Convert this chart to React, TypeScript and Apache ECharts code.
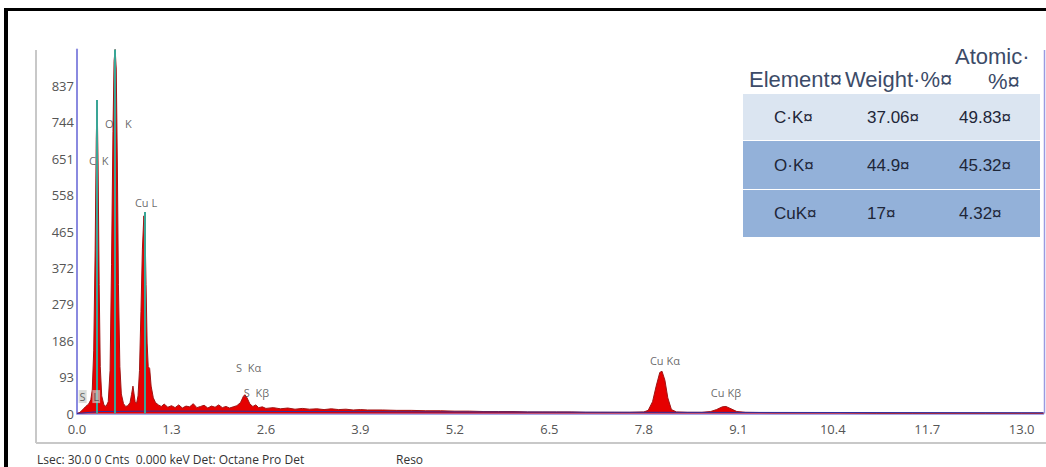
import React, { useEffect, useRef } from "react";
import * as echarts from "echarts";

// Spectrum: [energy keV, counts]
const spectrum: [number, number][] = [
  [0.0, 0], [0.04, 3], [0.08, 10], [0.12, 18], [0.16, 24], [0.19, 35], [0.21, 60],
  [0.23, 160], [0.25, 420], [0.265, 700], [0.277, 800], [0.29, 640], [0.305, 330],
  [0.32, 120], [0.34, 45], [0.37, 22], [0.4, 18], [0.43, 30], [0.455, 110],
  [0.475, 380], [0.495, 720], [0.51, 900], [0.525, 930], [0.54, 880], [0.555, 640],
  [0.57, 330], [0.59, 120], [0.61, 50], [0.64, 25], [0.67, 18], [0.7, 20], [0.73, 28],
  [0.75, 48], [0.77, 70], [0.785, 50], [0.8, 30], [0.82, 26], [0.84, 45], [0.86, 110],
  [0.88, 260], [0.9, 420], [0.92, 505], [0.935, 480], [0.95, 330], [0.965, 180],
  [0.98, 120], [1.0, 115], [1.02, 70], [1.05, 40], [1.08, 28], [1.12, 22], [1.16, 18],
  [1.2, 24], [1.25, 16], [1.3, 20], [1.35, 15], [1.4, 22], [1.45, 14], [1.5, 19],
  [1.55, 17], [1.6, 25], [1.65, 15], [1.7, 18], [1.75, 21], [1.8, 14], [1.85, 19],
  [1.9, 16], [1.95, 22], [2.0, 15], [2.05, 18], [2.1, 14], [2.15, 17], [2.2, 20],
  [2.25, 28], [2.29, 44], [2.31, 48], [2.34, 40], [2.38, 24], [2.42, 18], [2.46, 22],
  [2.5, 15], [2.55, 17], [2.6, 13], [2.7, 15], [2.8, 12], [2.9, 14], [3.0, 11],
  [3.1, 13], [3.2, 11], [3.3, 12], [3.4, 10], [3.5, 12], [3.6, 10], [3.7, 11],
  [3.8, 9], [3.9, 10], [4.0, 9], [4.2, 9], [4.4, 8], [4.6, 8], [4.8, 7], [5.0, 7],
  [5.2, 6], [5.4, 6], [5.6, 5], [5.8, 5], [6.0, 5], [6.2, 4], [6.4, 4], [6.6, 4],
  [6.8, 4], [7.0, 3], [7.2, 3], [7.4, 3], [7.6, 3], [7.8, 4], [7.86, 8], [7.92, 30],
  [7.97, 70], [8.02, 105], [8.05, 108], [8.09, 85], [8.13, 40], [8.18, 10], [8.25, 4],
  [8.4, 3], [8.6, 3], [8.72, 5], [8.8, 10], [8.88, 17], [8.93, 18], [9.0, 12],
  [9.08, 5], [9.2, 3], [9.6, 2], [10.0, 2], [10.5, 2], [11.0, 1], [11.5, 1],
  [12.0, 1], [12.5, 1], [13.0, 1], [13.3, 1],
];

// Fitted background
const background: [number, number][] = [
  [0.0, 0], [0.3, 5], [1.0, 6], [2.0, 6], [3.0, 5], [5.0, 4], [8.0, 3], [13.3, 2],
];

// KLM marker lines
const markerEnergies = [0.277, 0.525, 0.93];
const markerHeights = [801, 930, 515];

// Peak labels
const lineNames = ["{g|S}  {g|L}", "C  K", "O    K", "Cu L", "S  Kα", "S  Kβ", "Cu Kα", "Cu Kβ"];
const lineLabelEnergy = [0.17, 0.3, 0.57, 0.95, 2.36, 2.47, 8.09, 8.93];
const lineLabelCounts = [42, 648, 742, 540, 118, 56, 136, 56];

// Quantification table
const tableHeaders = ["Element¤", "Weight·%¤", "Atomic·", "%¤"];
const tableElements = ["C·K¤", "O·K¤", "CuK¤"];
const tableWeight = ["37.06¤", "44.9¤", "17¤"];
const tableAtomic = ["49.83¤", "45.32¤", "4.32¤"];

const yTicksInterval = 93;
const yMax = 930;
const xInterval = 1.3;
const xMax = 13.3;

const statusText = "Lsec: 30.0 0 Cnts  0.000 keV Det: Octane Pro Det";
const statusText2 = "Reso";

export default function App() {
  const ref = useRef<HTMLDivElement>(null);
  useEffect(() => {
    if (!ref.current) return;
    const chart = echarts.init(ref.current, undefined, { renderer: "svg" });
    const font = "'Open Sans', 'Noto Sans', sans-serif";
    const tfont = "'Liberation Sans', Arial, sans-serif";
    const rowTops = [94, 141, 190];
    const rowH = [46, 48, 47];
    const rowColors = ["#dbe5f1", "#93b1d9", "#93b1d9"];
    const graphics: any[] = [
      // outer black frame
      { type: "rect", shape: { x: 4, y: 8, width: 4, height: 470 }, style: { fill: "#000" }, silent: true },
      { type: "rect", shape: { x: 4, y: 8, width: 1050, height: 3 }, style: { fill: "#000" }, silent: true },
      // grey panel lines
      { type: "line", shape: { x1: 36, y1: 50, x2: 36, y2: 443 }, style: { stroke: "#c8c8c8", lineWidth: 2 }, silent: true },
      { type: "line", shape: { x1: 36, y1: 443, x2: 1046, y2: 443 }, style: { stroke: "#c8c8c8", lineWidth: 2 }, silent: true },
      // right plot border
      { type: "line", shape: { x1: 1044.5, y1: 50, x2: 1044.5, y2: 413.5 }, style: { stroke: "#9a9ae0", lineWidth: 1.5 }, silent: true },
      // status text
      { type: "text", x: 37, y: 459, style: { text: statusText, font: `12px ${font}`, fill: "#333", textVerticalAlign: "middle" }, silent: true },
      { type: "text", x: 396, y: 459, style: { text: statusText2, font: `12px ${font}`, fill: "#333", textVerticalAlign: "middle" }, silent: true },
    ];
    rowTops.forEach((t, i) => {
      graphics.push({ type: "rect", shape: { x: 743, y: t, width: 297, height: rowH[i] }, style: { fill: rowColors[i] }, silent: true });
      const cy = t + rowH[i] / 2;
      graphics.push({ type: "text", x: 774, y: cy, style: { text: tableElements[i], font: `17px ${tfont}`, fill: "#1e2638", textVerticalAlign: "middle" }, silent: true });
      graphics.push({ type: "text", x: 867, y: cy, style: { text: tableWeight[i], font: `17px ${tfont}`, fill: "#1e2638", textVerticalAlign: "middle" }, silent: true });
      graphics.push({ type: "text", x: 959, y: cy, style: { text: tableAtomic[i], font: `17px ${tfont}`, fill: "#1e2638", textVerticalAlign: "middle" }, silent: true });
    });
    const hStyle = (t: string) => ({ text: t, font: `22px ${tfont}`, fill: "#3c4b68", textVerticalAlign: "bottom" });
    graphics.push({ type: "text", x: 749, y: 90, style: hStyle(tableHeaders[0]), silent: true });
    graphics.push({ type: "text", x: 845, y: 90, style: hStyle(tableHeaders[1]), silent: true });
    graphics.push({ type: "text", x: 955, y: 67, style: hStyle(tableHeaders[2]), silent: true });
    graphics.push({ type: "text", x: 988, y: 92, style: hStyle(tableHeaders[3]), silent: true });

    const labelData = lineNames.map((n, i) => ({
      name: n,
      value: [lineLabelEnergy[i], lineLabelCounts[i]],
    }));

    chart.setOption({
      animation: false,
      backgroundColor: "#ffffff",
      grid: { left: 77, right: 2.5, top: 49.5, bottom: 53.5, containLabel: false },
      xAxis: {
        type: "value",
        min: 0,
        max: xMax,
        interval: xInterval,
        axisLine: { show: true, lineStyle: { color: "#8a8ae0", width: 1.5 } },
        axisTick: { show: false },
        splitLine: { show: false },
        axisLabel: {
          color: "#555",
          fontSize: 13,
          lineHeight: 13,
          fontFamily: font,
          margin: 9,
          showMaxLabel: false,
          formatter: (v: number) => v.toFixed(1),
        },
      },
      yAxis: {
        type: "value",
        min: 0,
        max: yMax,
        interval: yTicksInterval,
        axisLine: { show: true, lineStyle: { color: "#8a8ae0", width: 2 } },
        axisTick: { show: false },
        splitLine: { show: false },
        axisLabel: {
          color: "#555",
          fontSize: 13,
          lineHeight: 13,
          fontFamily: font,
          margin: 3,
          showMaxLabel: false,
        },
      },
      series: [
        {
          type: "line",
          name: "spectrum",
          data: spectrum,
          symbol: "none",
          lineStyle: { color: "#a01414", width: 1 },
          areaStyle: { color: "#e60000", opacity: 1 },
          markLine: {
            silent: true,
            symbol: ["none", "none"],
            label: { show: false },
            lineStyle: { color: "#3aa596", width: 2, type: "solid" },
            data: markerEnergies.map((e, i) => [
              { coord: [e, 0] },
              { coord: [e, markerHeights[i]] },
            ]),
          },
          z: 2,
        },
        {
          type: "line",
          name: "background",
          data: background,
          symbol: "none",
          lineStyle: { color: "#3030a0", width: 1 },
          z: 3,
        },
        {
          type: "scatter",
          name: "labels",
          data: labelData,
          symbolSize: 0,
          silent: true,
          itemStyle: { color: "#444" },
          label: {
            show: true,
            position: "top",
            distance: -6,
            formatter: "{b}",
            color: "#444",
            textBorderWidth: 0,
            textBorderColor: "transparent",
            fontSize: 11,
            fontFamily: font,
            rich: {
              g: {
                color: "#444",
                fontSize: 11,
                fontFamily: font,
                backgroundColor: "rgba(200,205,200,0.85)",
                padding: [1, 1],
              },
            },
          },
          z: 10,
        },
      ],
      graphic: graphics,
    });
    return () => chart.dispose();
  }, []);
  return (
    <div
      ref={ref}
      style={{ position: "fixed", left: 0, top: 0, width: 1046, height: 467 }}
    />
  );
}
